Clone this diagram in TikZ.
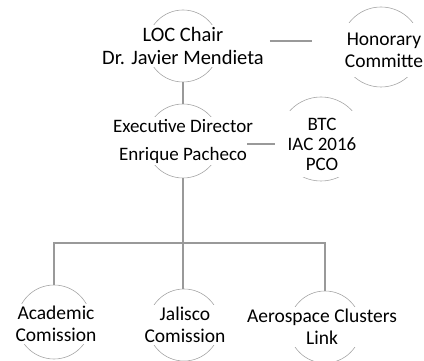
\documentclass[tikz,border=0pt]{standalone}
\usepackage{fontspec}
\setmainfont{Carlito}
\usepackage{tikz}

\tikzset{
  ring/.style={circle, draw=gray!70, line width=0.6pt, inner sep=0pt, minimum size=74pt},
  orgtext/.style={fill=white, align=center, inner sep=2pt, text=black, font=\fontsize{19.5}{22}\selectfont},
  link/.style={draw=gray!80, line width=2.6pt}
}

\begin{document}
\begin{tikzpicture}[x=1pt,y=-1pt]
\useasboundingbox (0,0) rectangle (424,361);
\node[ring, minimum size=72pt] (loc) at (183,46) {};
\node[orgtext, font=\fontsize{20.5}{23}\selectfont] (loctxt) at (loc) {LOC Chair\\Dr. Javier Mendieta};
\node[ring, minimum size=80pt] (hon) at (381,47) {};
\node[orgtext, minimum width=92pt, minimum height=54pt] (hontxt) at (384,50) {Honorary\\Committe};
\node[ring] (exec) at (183,141) {};
\node[orgtext, font=\fontsize{19}{28}\selectfont, minimum width=80pt] (exectxt) at (exec) {Executive Director\\Enrique Pacheco};
\node[ring, minimum size=84pt] (btc) at (321,139) {};
\node[orgtext, font=\fontsize{19}{20}\selectfont, minimum width=92pt, minimum height=66pt] (btctxt) at (322,144) {BTC\\IAC 2016\\PCO};
\node[ring] (aca) at (54,322) {};
\node[orgtext, minimum width=82pt] (acatxt) at (56,324) {Academic\\Comission};
\node[ring, minimum size=72pt] (jal) at (184,325) {};
\node[orgtext, minimum width=80pt] (jaltxt) at (185,325) {Jalisco\\Comission};
\node[ring, minimum size=72pt] (aero) at (325,327) {};
\node[orgtext, minimum width=80pt] (aerotxt) at (322,327) {Aerospace Clusters\\Link};
\coordinate (lochook) at ([xshift=4pt,yshift=5pt]loctxt.east);
\coordinate (exechook) at ([xshift=-8pt,yshift=-3pt]exectxt.east);
\coordinate (fork) at (183,243);
\draw[link] (lochook) -- ([xshift=-26pt]hontxt.west |- lochook);
\draw[link] (loc.south) -- (exec.north);
\draw[link] (exechook) -- ([xshift=-1pt]btctxt.west |- exechook);
\draw[link] (exec.south) -- (fork);
\draw[link] (aca.north) |- (fork) -| (aero.north);
\draw[link] (fork) -- (fork |- jal.north);
\end{tikzpicture}
\end{document}
